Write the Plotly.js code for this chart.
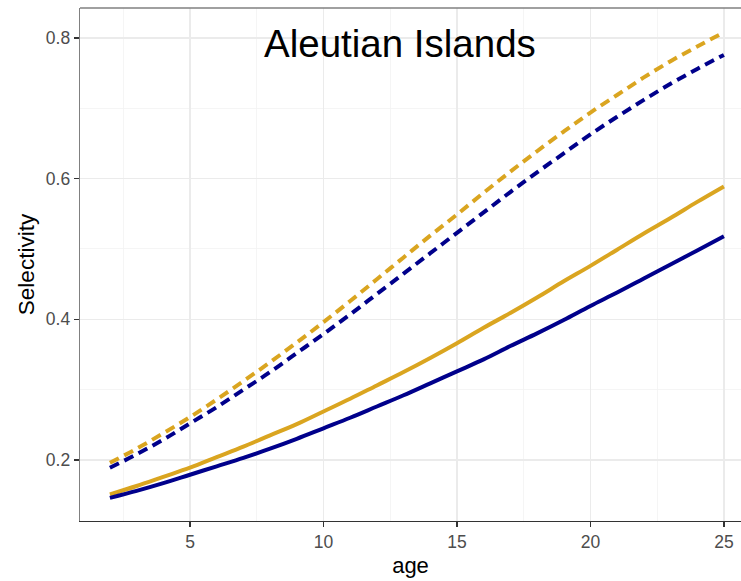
<!DOCTYPE html>
<html>
<head>
<meta charset="utf-8">
<script src="https://cdn.plot.ly/plotly-3.0.1.min.js"></script>
<style>html,body{margin:0;padding:0;background:#fff;}#chart{width:741px;height:581px;}</style>
</head>
<body>
<div id="chart"></div>
<script>
const age = [2,3,4,5,6,7,8,9,10,11,12,13,14,15,16,17,18,19,20,21,22,23,24,25];
const goldDashed = [0.196,0.216,0.238,0.261,0.286,0.312,0.339,0.367,0.396,0.426,0.457,0.488,0.519,0.549,0.580,0.610,0.639,0.667,0.694,0.719,0.744,0.767,0.788,0.808];
const blueDashed = [0.189,0.208,0.229,0.252,0.275,0.300,0.325,0.352,0.379,0.407,0.436,0.465,0.494,0.523,0.552,0.581,0.609,0.636,0.663,0.688,0.712,0.735,0.756,0.776];
const goldSolid = [0.151,0.163,0.176,0.189,0.204,0.219,0.235,0.251,0.269,0.287,0.306,0.325,0.345,0.366,0.388,0.409,0.431,0.454,0.476,0.499,0.522,0.544,0.567,0.589];
const blueSolid = [0.146,0.156,0.167,0.179,0.191,0.203,0.216,0.230,0.245,0.260,0.276,0.292,0.309,0.326,0.343,0.362,0.380,0.399,0.419,0.438,0.458,0.478,0.498,0.518];
const xTicks = [5,10,15,20,25];
const yTicks = [0.2,0.4,0.6,0.8];
const titleText = "Aleutian Islands";

const GOLD = "#DAA520", BLUE = "#00008B";
const traces = [
  {x: age, y: goldDashed, mode: "lines", line: {color: GOLD, width: 4, dash: "10px,6px", shape: "spline"}},
  {x: age, y: blueDashed, mode: "lines", line: {color: BLUE, width: 4, dash: "10px,6px", shape: "spline"}},
  {x: age, y: goldSolid, mode: "lines", line: {color: GOLD, width: 4, shape: "spline"}},
  {x: age, y: blueSolid, mode: "lines", line: {color: BLUE, width: 4, shape: "spline"}}
];
const layout = {
  width: 741, height: 581,
  margin: {l: 80, r: 0, t: 8, b: 60},
  paper_bgcolor: "#fff", plot_bgcolor: "#fff",
  showlegend: false,
  font: {family: "Liberation Sans, Arial, sans-serif"},
  xaxis: {
    range: [0.88, 25.64], tickvals: xTicks, ticktext: xTicks.map(String),
    showgrid: true, gridcolor: "#ebebeb", gridwidth: 1.4,
    minor: {tickvals: [2.5,7.5,12.5,17.5,22.5], showgrid: true, gridcolor: "#f3f3f3", gridwidth: 0.8, ticks: ""},
    showline: true, linecolor: "#333333", linewidth: 1.3,
    ticks: "outside", ticklen: 5, tickcolor: "#333333", tickwidth: 1.3,
    tickfont: {size: 17.5, color: "#4d4d4d"},
    zeroline: false,
    title: {text: "age", font: {size: 22, color: "#000"}, standoff: 6}
  },
  yaxis: {
    range: [0.1132, 0.8427], tickvals: yTicks, ticktext: yTicks.map(v => v.toFixed(1)),
    showgrid: true, gridcolor: "#ebebeb", gridwidth: 1.4,
    minor: {tickvals: [0.3,0.5,0.7], showgrid: true, gridcolor: "#f3f3f3", gridwidth: 0.8, ticks: ""},
    showline: true, linecolor: "#808080", linewidth: 1.3,
    ticks: "outside", ticklen: 5, tickcolor: "#333333", tickwidth: 1.3,
    tickfont: {size: 17.5, color: "#4d4d4d"},
    zeroline: false,
    title: {text: "Selectivity", font: {size: 22.5, color: "#000"}, standoff: 5}
  },
  shapes: [
    {type: "line", xref: "paper", yref: "paper", x0: 0, x1: 1, y0: 1, y1: 1, line: {color: "#808080", width: 1.5}}
  ],
  annotations: [
    {text: titleText, xref: "paper", yref: "paper", x: 0.484, y: 0.93, xanchor: "center", yanchor: "middle",
     showarrow: false, font: {size: 38.5, color: "#000", family: "Liberation Sans, Arial, sans-serif"}}
  ]
};
Plotly.newPlot("chart", traces, layout, {displayModeBar: false, staticPlot: true});
</script>
</body>
</html>
